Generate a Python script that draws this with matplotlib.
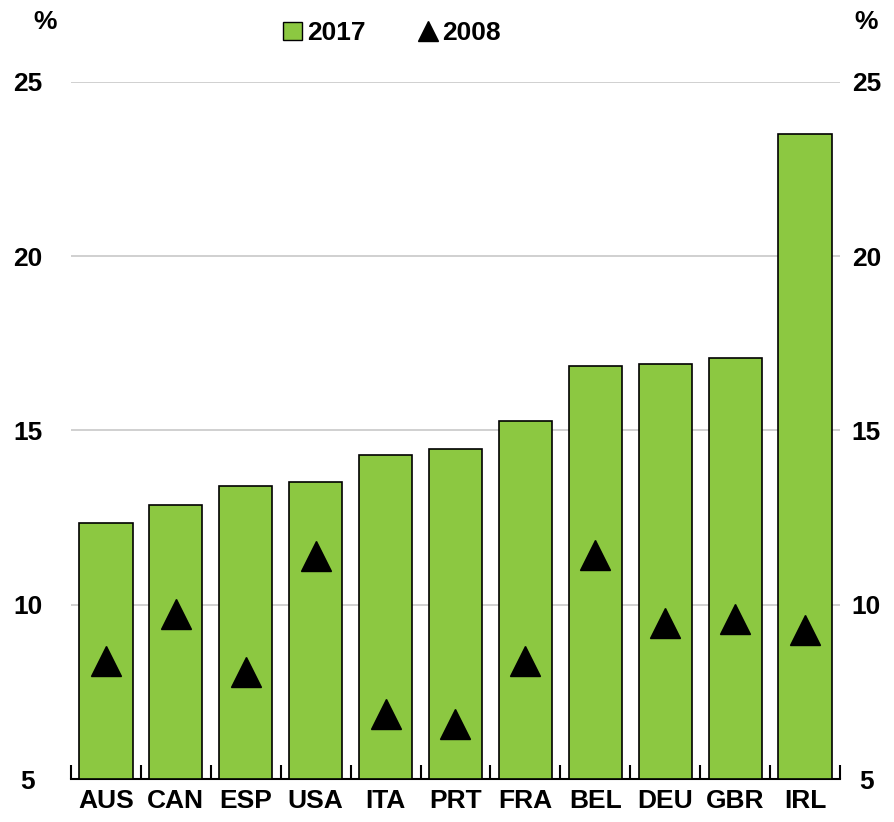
import matplotlib
matplotlib.use("Agg")
import matplotlib.pyplot as plt
from matplotlib.lines import Line2D
from matplotlib.patches import Patch
from matplotlib import font_manager
import numpy as np

countries = ["AUS", "CAN", "ESP", "USA", "ITA", "PRT", "FRA", "BEL", "DEU", "GBR", "IRL"]
v2017 = [12.36, 12.85, 13.42, 13.51, 14.31, 14.46, 15.26, 16.86, 16.92, 17.07, 23.52]
v2008 = [8.38, 9.73, 8.07, 11.39, 6.86, 6.58, 8.38, 11.42, 9.48, 9.58, 9.27]
yticks = [5, 10, 15, 20, 25]

names = {f.name for f in font_manager.fontManager.ttflist}
fam = ["Liberation Sans Narrow"] if "Liberation Sans Narrow" in names else ["Liberation Sans"]
plt.rcParams["font.family"] = fam + ["DejaVu Sans"]
plt.rcParams["font.weight"] = "bold"
fs = 20 if fam[0] == "Liberation Sans Narrow" else 19

green = "#8CC841"
fig = plt.figure(figsize=(8.94, 8.22), dpi=100)
ax = fig.add_axes([71/894, 1-779/822, (840-71)/894, (779-82)/822])
x = np.arange(len(countries))
ax.bar(x, [v - 5 for v in v2017], bottom=5, width=0.76, color=green, edgecolor="black", linewidth=1.2, zorder=3)
ax.plot(x, v2008, linestyle="none", marker="^", markersize=21, color="black", zorder=4)

ax.set_xlim(-0.5, len(countries) - 0.5)
ax.set_ylim(5, 25)
ax.set_yticks(yticks)
ax.yaxis.grid(True, color="#c8c8c8", linewidth=1.2, zorder=0)
ax.set_axisbelow(True)
for s in ["left", "right", "top"]:
    ax.spines[s].set_visible(False)
ax.spines["bottom"].set_linewidth(1.5)
ax.set_yticklabels([str(t) for t in yticks])
ax.tick_params(axis="y", length=0, labelsize=fs, pad=31)
for lab in ax.get_yticklabels():
    lab.set_horizontalalignment("center")

ax2 = ax.twinx()
ax2.set_ylim(5, 25)
ax2.set_yticks(yticks)
ax2.set_yticklabels([str(t) for t in yticks])
ax2.tick_params(axis="y", length=0, labelsize=fs, pad=19)
for lab in ax2.get_yticklabels():
    lab.set_horizontalalignment("center")
for s in ax2.spines.values():
    s.set_visible(False)

ax.set_xticks(x)
ax.set_xticklabels(countries, fontsize=fs)
ax.tick_params(axis="x", length=0, pad=7)
ax.set_xticks(np.arange(-0.5, len(countries) + 0.5, 1), minor=True)
ax.tick_params(axis="x", which="minor", direction="in", length=10, width=1.5)

fig.text(45/894, 1-22/822, "%", fontsize=fs, ha="center", va="center")
fig.text(866/894, 1-22/822, "%", fontsize=fs, ha="center", va="center")

handles = [Patch(facecolor=green, edgecolor="black", linewidth=1.0),
           Line2D([], [], linestyle="none", marker="^", markersize=14, color="black")]
leg = fig.legend(handles, ["2017", "2008"], loc="center", bbox_to_anchor=(392/894, 1-33/822),
                 ncol=2, frameon=False, fontsize=fs, handlelength=0.7, handleheight=0.7,
                 handletextpad=0.2, columnspacing=2.0)

fig.savefig("out.png", dpi=100)
